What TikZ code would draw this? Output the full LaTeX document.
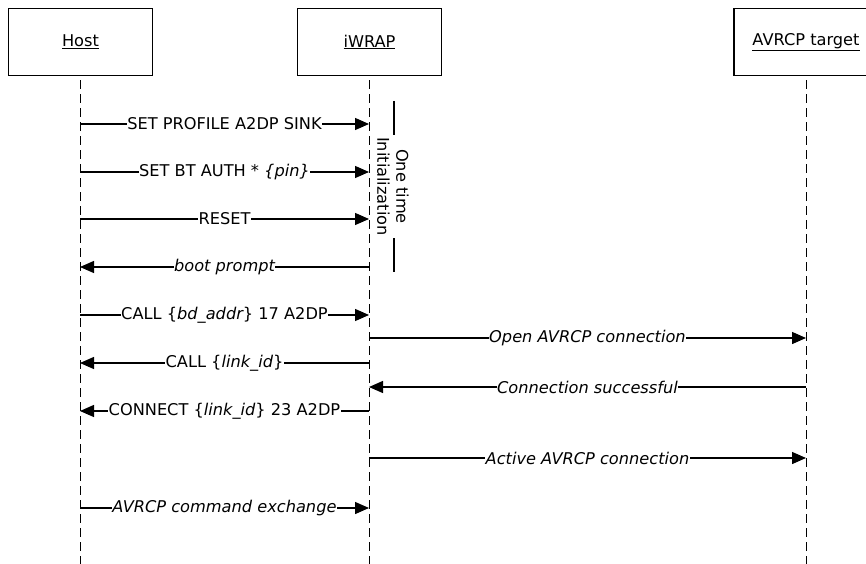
\documentclass[tikz,border=0pt]{standalone}
\usepackage{fontspec}
\setmainfont{DejaVu Sans}
\usetikzlibrary{arrows.meta}
\begin{document}
\begin{tikzpicture}[x=1bp,y=-1bp,
  txt/.style={font=\fontsize{16.2bp}{19bp}\selectfont},
  actor/.style={draw,line width=1.1bp,minimum width=144bp,minimum height=67bp,inner sep=0,txt},
  life/.style={line width=0.9bp,dash pattern=on 9bp off 5bp},
  msg/.style={line width=1.4bp,-{Triangle[length=14bp,width=12bp]}},
  lbl/.style={fill=white,inner sep=0.5bp,txt}]
\clip (0,0) rectangle (866,564);
\fill[white] (0,0) rectangle (866,564);
% actors
\node[actor] (host) at (80.5,42) {\underline{Host}};
\node[actor] (iwrap) at (369.5,42) {\underline{iWRAP}};
\node[actor] (avrcp) at (806,42) {\underline{AVRCP target}};
% lifeline ends
\coordinate (hend) at (80,566);
\coordinate (wend) at (369,566);
\coordinate (aend) at (806,566);
\draw[life] (host.south -| hend) ++(0,4) -- (hend);
\draw[life] (iwrap.south -| wend) ++(0,4) -- (wend);
\draw[life] (avrcp.south -| aend) ++(0,4) -- (aend);
% message points
\foreach \n/\y in {1/124,2/172,3/219,4/267,5/315,6/338,7/363,8/387,9/411,10/458,11/508}{
  \coordinate (h\n) at (80,\y);
  \coordinate (w\n) at (369,\y);
  \coordinate (a\n) at (806,\y);
}
\draw[msg] (h1) -- node[lbl]{SET PROFILE A2DP SINK} (w1);
\draw[msg] (h2) -- node[lbl]{SET BT AUTH * {\itshape\{pin\}}} (w2);
\draw[msg] (h3) -- node[lbl]{RESET} (w3);
\draw[msg] (w4) -- node[lbl]{\itshape boot prompt} (h4);
\draw[msg] (h5) -- node[lbl]{CALL \{{\itshape bd\_addr}\} 17 A2DP} (w5);
\draw[msg] (w6) -- node[lbl]{\itshape Open AVRCP connection} (a6);
\draw[msg] (w7) -- node[lbl]{CALL \{{\itshape link\_id}\}} (h7);
\draw[msg] (a8) -- node[lbl]{\itshape Connection successful} (w8);
\draw[msg] (w9) -- node[lbl]{CONNECT \{{\itshape link\_id}\} 23 A2DP} (h9);
\draw[msg] (w10) -- node[lbl]{\itshape Active AVRCP connection} (a10);
\draw[msg] (h11) -- node[lbl]{\itshape AVRCP command exchange} (w11);
% one time initialization bracket
\coordinate (btop) at (394,101);
\coordinate (bgap1) at (394,135);
\coordinate (bgap2) at (394,238);
\coordinate (bbot) at (394,272);
\node[txt,rotate=-90,align=center,inner sep=0bp] (binit) at (393,186.5) {One time\\Initialization};
\draw[line width=1.4bp] (btop) -- (bgap1);
\draw[line width=1.4bp] (bgap2) -- (bbot);
\end{tikzpicture}
\end{document}
